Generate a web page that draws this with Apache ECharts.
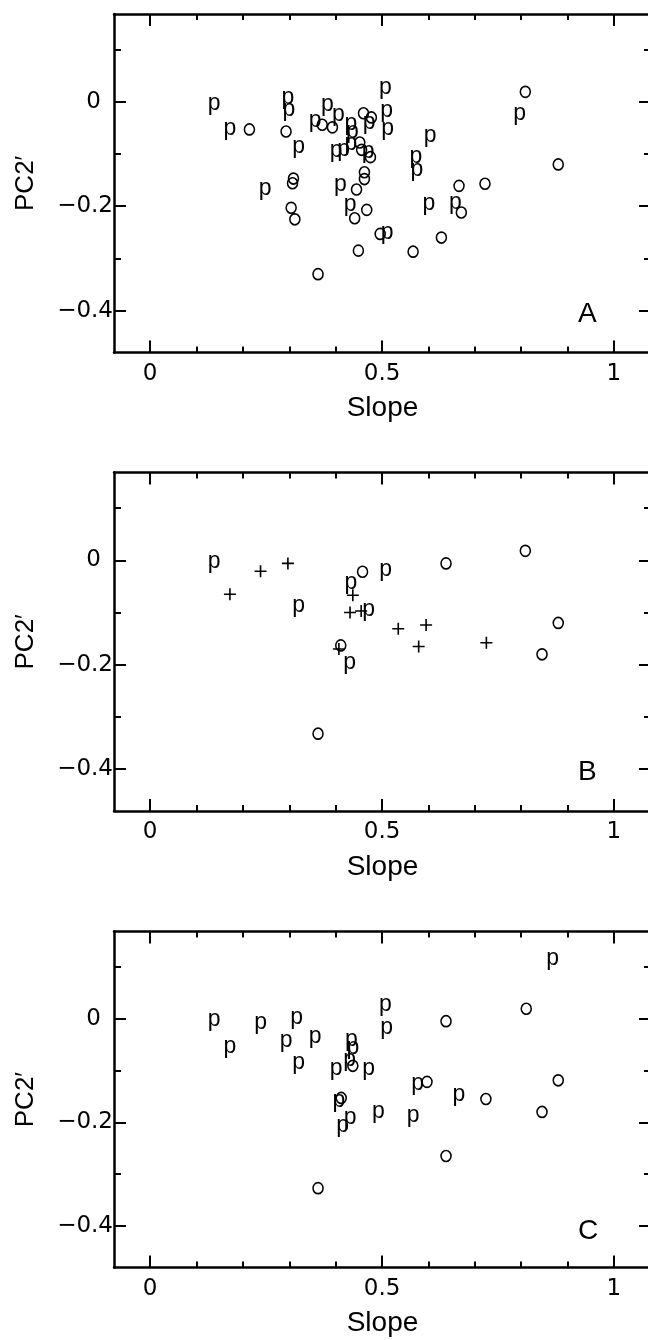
<!DOCTYPE html>
<html>
<head>
<meta charset="utf-8">
<script src="https://cdn.jsdelivr.net/npm/echarts@6/dist/echarts.min.js"></script>
<style>
  html, body { margin: 0; padding: 0; background: #fff; }
  #chart { width: 648px; height: 1340px; }
</style>
</head>
<body>
<div id="chart"></div>
<script>
// 面板A：p 与 o 两类点 [Slope, PC2']
let aP = [[0.138,-0.011],[0.172,-0.060],[0.297,0.000],[0.299,-0.022],[0.320,-0.094],[0.382,-0.013],[0.356,-0.043],[0.406,-0.032],[0.472,-0.047],[0.507,0.019],[0.510,-0.025],[0.512,-0.060],[0.433,-0.050],[0.436,-0.064],[0.433,-0.088],[0.401,-0.102],[0.417,-0.099],[0.470,-0.103],[0.604,-0.073],[0.573,-0.112],[0.575,-0.137],[0.797,-0.030],[0.248,-0.174],[0.410,-0.166],[0.431,-0.204],[0.601,-0.203],[0.658,-0.200],[0.511,-0.258]]
let aO = [[0.214,-0.053],[0.293,-0.057],[0.371,-0.044],[0.393,-0.049],[0.460,-0.022],[0.477,-0.030],[0.452,-0.078],[0.456,-0.092],[0.475,-0.106],[0.809,0.019],[0.880,-0.120],[0.462,-0.135],[0.462,-0.148],[0.309,-0.147],[0.307,-0.156],[0.445,-0.168],[0.666,-0.161],[0.722,-0.157],[0.304,-0.203],[0.312,-0.225],[0.441,-0.223],[0.467,-0.207],[0.671,-0.212],[0.496,-0.253],[0.628,-0.260],[0.449,-0.285],[0.567,-0.287],[0.362,-0.330]]

// 面板B：p、o、+
let bP = [[0.138,-0.011],[0.508,-0.026],[0.433,-0.050],[0.320,-0.094],[0.471,-0.103],[0.430,-0.204]]
let bO = [[0.458,-0.022],[0.638,-0.006],[0.809,0.018],[0.880,-0.120],[0.411,-0.163],[0.845,-0.180],[0.362,-0.332]]
let bPlus = [[0.238,-0.021],[0.297,-0.006],[0.172,-0.065],[0.437,-0.067],[0.431,-0.100],[0.455,-0.097],[0.535,-0.131],[0.595,-0.124],[0.407,-0.170],[0.579,-0.165],[0.725,-0.158]]

// 面板C：p 与 o
let cP = [[0.868,0.108],[0.507,0.019],[0.510,-0.026],[0.138,-0.010],[0.172,-0.061],[0.238,-0.015],[0.316,-0.006],[0.293,-0.051],[0.356,-0.043],[0.434,-0.049],[0.437,-0.064],[0.320,-0.093],[0.401,-0.104],[0.430,-0.086],[0.471,-0.104],[0.577,-0.134],[0.666,-0.155],[0.407,-0.166],[0.431,-0.198],[0.415,-0.214],[0.492,-0.188],[0.567,-0.195]]
let cO = [[0.811,0.019],[0.638,-0.005],[0.437,-0.091],[0.597,-0.122],[0.880,-0.119],[0.724,-0.155],[0.845,-0.180],[0.412,-0.153],[0.638,-0.265],[0.362,-0.327]]

// 刻度
let xMajor = [0, 0.5, 1]
let xMinor = [0.1, 0.2, 0.3, 0.4, 0.6, 0.7, 0.8, 0.9]
let yMajor = [-0.4, -0.2, 0]
let yMinor = [-0.3, -0.1, 0.1]
let panelNames = ['A', 'B', 'C']

let X_MIN = -0.078, X_MAX = 1.08
let Y_MIN = -0.48, Y_MAX = 0.168
let SANS = 'Liberation Sans, Arial, sans-serif'
let TICKFONT = 'DejaVu Sans, sans-serif'

let panels = [
  {top: 14, height: 338.5, p: aP, o: aO, plus: []},
  {top: 472.5, height: 338.5, p: bP, o: bO, plus: bPlus},
  {top: 931.5, height: 336, p: cP, o: cO, plus: []}
]

function fmt(v){
  if (v === 0) return '{z|0}'
  return v < 0 ? '\u2212' + String(-v) : String(v)
}

//- 单根坐标轴（主刻度/次刻度分开画）
function makeAxis(g, pos, ticks, len, main, isX){
  let ax = {
    type: 'value', gridIndex: g, position: pos,
    min: isX ? X_MIN : Y_MIN, max: isX ? X_MAX : Y_MAX,
    axisLine: {show: main, onZero: false, lineStyle: {color: '#000', width: 2.5}},
    axisTick: {show: true, inside: true, length: len, customValues: ticks, lineStyle: {color: '#000', width: 2}},
    axisLabel: {show: false},
    splitLine: {show: false},
    axisPointer: {show: false}
  }
  return ax
}

function buildOption(){
  let grid = [], xAxis = [], yAxis = [], series = [], graphic = []
  panels.forEach((pn, g) => {
    grid.push({left: 114, width: 537, top: pn.top, height: pn.height, outerBoundsMode: 'none'})

    let xb = makeAxis(g, 'bottom', xMajor, 12, true, true)
    xb.axisLabel = {show: true, customValues: xMajor, margin: 10, fontSize: 23, fontFamily: TICKFONT, color: '#000',
      formatter: v => String(v)}
    xb.name = 'Slope'
    xb.nameLocation = 'middle'
    xb.nameGap = 42
    xb.nameTextStyle = {fontSize: 28, fontFamily: SANS, color: '#000'}
    xAxis.push(xb)
    xAxis.push(makeAxis(g, 'bottom', xMinor, 6, false, true))
    xAxis.push(makeAxis(g, 'top', xMajor, 12, true, true))
    xAxis.push(makeAxis(g, 'top', xMinor, 6, false, true))

    let yl = makeAxis(g, 'left', yMajor, 12, true, false)
    yl.axisLabel = {show: true, customValues: yMajor, margin: 1, fontSize: 23, fontFamily: TICKFONT, color: '#000',
      formatter: fmt, rich: {z: {fontSize: 23, fontFamily: TICKFONT, color: '#000', padding: [0, 12, 0, 0]}}}
    yl.name = 'PC2\u2032'
    yl.nameLocation = 'middle'
    yl.nameGap = 75
    yl.nameTextStyle = {fontSize: 26, fontFamily: SANS, color: '#000'}
    yAxis.push(yl)
    yAxis.push(makeAxis(g, 'left', yMinor, 7, false, false))
    yAxis.push(makeAxis(g, 'right', yMajor, 12, true, false))
    yAxis.push(makeAxis(g, 'right', yMinor, 7, false, false))

    let xi = g * 4, yi = g * 4
    series.push({
      type: 'scatter', xAxisIndex: xi, yAxisIndex: yi, data: pn.p, silent: true,
      symbol: 'circle', symbolSize: 1, itemStyle: {color: 'rgba(0,0,0,0)', opacity: 1},
      label: {show: true, position: 'inside', formatter: 'p', offset: [0, -4], fontSize: 23, fontFamily: SANS, color: '#000', opacity: 1}
    })
    series.push({
      type: 'scatter', xAxisIndex: xi, yAxisIndex: yi, data: pn.o, silent: true,
      symbol: 'circle', symbolSize: [10, 11], itemStyle: {color: 'rgba(0,0,0,0)', borderColor: '#000', borderWidth: 1.6, opacity: 1}
    })
    if (pn.plus.length) series.push({
      type: 'scatter', xAxisIndex: xi, yAxisIndex: yi, data: pn.plus, silent: true,
      symbol: 'path://M0,6H12M6,0V12', symbolSize: 12, itemStyle: {color: 'none', borderColor: '#000', borderWidth: 1.6, opacity: 1}
    })

    // 面板字母
    graphic.push({type: 'text', left: 578, top: pn.top + 286, style: {text: panelNames[g], fontSize: 28, fontFamily: SANS, fill: '#000'}})
  })
  return {animation: false, backgroundColor: '#fff', grid, xAxis, yAxis, series, graphic}
}

let myChart = echarts.init(document.getElementById('chart'), null, {renderer: 'canvas'})
myChart.setOption(buildOption())
</script>
</body>
</html>
